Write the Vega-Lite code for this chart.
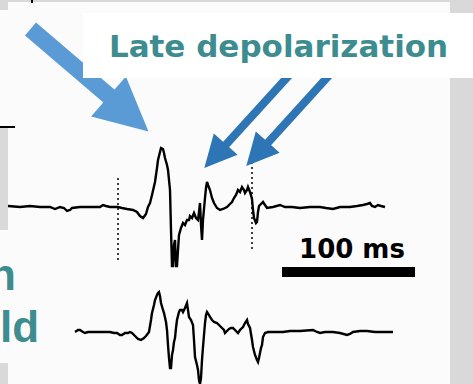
{
  "$schema": "https://vega.github.io/schema/vega-lite/v6.json",
  "autosize": {"type": "none"},
  "width": 473,
  "height": 384,
  "padding": 0,
  "background": "#d9d9d9",
  "config": {"view": {"stroke": null}},
  "encoding": {
    "x": {"field": "sample", "type": "quantitative", "scale": {"domain": [0, 473], "nice": false, "zero": false}, "axis": null},
    "y": {"field": "v", "type": "quantitative", "scale": {"domain": [0, 384], "nice": false, "zero": false, "reverse": true}, "axis": null}
  },
  "layer": [
    {
      "data": {"values": [
        {"sample": 8, "sample2": 450, "v": 2, "v2": 384},
        {"sample": 0, "sample2": 8, "v": 10, "v2": 128},
        {"sample": 0, "sample2": 8, "v": 230, "v2": 363}
      ]},
      "mark": {"type": "rect", "color": "#fbfbfb"},
      "encoding": {"x2": {"field": "sample2"}, "y2": {"field": "v2"}}
    },
    {
      "data": {"values": [
        {"lead": "top", "sample": 8, "v": 206}, {"lead": "top", "sample": 20, "v": 207}, {"lead": "top", "sample": 30, "v": 206},
        {"lead": "top", "sample": 40, "v": 207}, {"lead": "top", "sample": 50, "v": 207}, {"lead": "top", "sample": 55, "v": 209},
        {"lead": "top", "sample": 60, "v": 207}, {"lead": "top", "sample": 64, "v": 208}, {"lead": "top", "sample": 67, "v": 211},
        {"lead": "top", "sample": 70, "v": 210}, {"lead": "top", "sample": 72, "v": 208}, {"lead": "top", "sample": 80, "v": 207},
        {"lead": "top", "sample": 90, "v": 207}, {"lead": "top", "sample": 100, "v": 207}, {"lead": "top", "sample": 103, "v": 205},
        {"lead": "top", "sample": 106, "v": 206}, {"lead": "top", "sample": 110, "v": 207}, {"lead": "top", "sample": 118, "v": 207},
        {"lead": "top", "sample": 122, "v": 208}, {"lead": "top", "sample": 127, "v": 209}, {"lead": "top", "sample": 133, "v": 210},
        {"lead": "top", "sample": 137, "v": 212}, {"lead": "top", "sample": 140, "v": 216}, {"lead": "top", "sample": 143, "v": 218},
        {"lead": "top", "sample": 146, "v": 214}, {"lead": "top", "sample": 148, "v": 207}, {"lead": "top", "sample": 150, "v": 203},
        {"lead": "top", "sample": 152, "v": 195}, {"lead": "top", "sample": 155, "v": 182}, {"lead": "top", "sample": 157, "v": 168},
        {"lead": "top", "sample": 158, "v": 160}, {"lead": "top", "sample": 160, "v": 152}, {"lead": "top", "sample": 161, "v": 148},
        {"lead": "top", "sample": 163, "v": 149}, {"lead": "top", "sample": 164, "v": 153}, {"lead": "top", "sample": 165, "v": 158},
        {"lead": "top", "sample": 167, "v": 165}, {"lead": "top", "sample": 168, "v": 170}, {"lead": "top", "sample": 170, "v": 190},
        {"lead": "top", "sample": 171, "v": 230}, {"lead": "top", "sample": 172, "v": 266}, {"lead": "top", "sample": 173, "v": 266},
        {"lead": "top", "sample": 174, "v": 245}, {"lead": "top", "sample": 175, "v": 240}, {"lead": "top", "sample": 176, "v": 266},
        {"lead": "top", "sample": 177, "v": 266}, {"lead": "top", "sample": 178, "v": 250}, {"lead": "top", "sample": 179, "v": 235},
        {"lead": "top", "sample": 181, "v": 228}, {"lead": "top", "sample": 183, "v": 223}, {"lead": "top", "sample": 185, "v": 225},
        {"lead": "top", "sample": 187, "v": 220}, {"lead": "top", "sample": 189, "v": 220}, {"lead": "top", "sample": 190, "v": 216},
        {"lead": "top", "sample": 192, "v": 218}, {"lead": "top", "sample": 194, "v": 213}, {"lead": "top", "sample": 196, "v": 218},
        {"lead": "top", "sample": 198, "v": 220}, {"lead": "top", "sample": 199, "v": 212}, {"lead": "top", "sample": 200, "v": 203},
        {"lead": "top", "sample": 201, "v": 225}, {"lead": "top", "sample": 202, "v": 240}, {"lead": "top", "sample": 203, "v": 220},
        {"lead": "top", "sample": 205, "v": 198}, {"lead": "top", "sample": 206, "v": 188}, {"lead": "top", "sample": 207, "v": 182},
        {"lead": "top", "sample": 208, "v": 185}, {"lead": "top", "sample": 210, "v": 190}, {"lead": "top", "sample": 212, "v": 198},
        {"lead": "top", "sample": 214, "v": 203}, {"lead": "top", "sample": 217, "v": 208}, {"lead": "top", "sample": 220, "v": 210},
        {"lead": "top", "sample": 223, "v": 209}, {"lead": "top", "sample": 227, "v": 207}, {"lead": "top", "sample": 230, "v": 204},
        {"lead": "top", "sample": 232, "v": 202}, {"lead": "top", "sample": 234, "v": 198}, {"lead": "top", "sample": 236, "v": 195},
        {"lead": "top", "sample": 238, "v": 190}, {"lead": "top", "sample": 240, "v": 192}, {"lead": "top", "sample": 242, "v": 187},
        {"lead": "top", "sample": 244, "v": 190}, {"lead": "top", "sample": 245, "v": 193}, {"lead": "top", "sample": 247, "v": 190},
        {"lead": "top", "sample": 248, "v": 187}, {"lead": "top", "sample": 250, "v": 192}, {"lead": "top", "sample": 252, "v": 199},
        {"lead": "top", "sample": 253, "v": 210}, {"lead": "top", "sample": 254, "v": 218}, {"lead": "top", "sample": 256, "v": 223},
        {"lead": "top", "sample": 257, "v": 222}, {"lead": "top", "sample": 258, "v": 212}, {"lead": "top", "sample": 259, "v": 206},
        {"lead": "top", "sample": 261, "v": 204}, {"lead": "top", "sample": 263, "v": 202}, {"lead": "top", "sample": 265, "v": 205},
        {"lead": "top", "sample": 267, "v": 208}, {"lead": "top", "sample": 273, "v": 207}, {"lead": "top", "sample": 280, "v": 205},
        {"lead": "top", "sample": 285, "v": 207}, {"lead": "top", "sample": 292, "v": 207}, {"lead": "top", "sample": 300, "v": 208},
        {"lead": "top", "sample": 310, "v": 207}, {"lead": "top", "sample": 320, "v": 207}, {"lead": "top", "sample": 326, "v": 208},
        {"lead": "top", "sample": 333, "v": 209}, {"lead": "top", "sample": 340, "v": 207}, {"lead": "top", "sample": 350, "v": 207},
        {"lead": "top", "sample": 357, "v": 206}, {"lead": "top", "sample": 363, "v": 205}, {"lead": "top", "sample": 367, "v": 204},
        {"lead": "top", "sample": 370, "v": 203}, {"lead": "top", "sample": 372, "v": 206}, {"lead": "top", "sample": 375, "v": 207},
        {"lead": "top", "sample": 378, "v": 205}, {"lead": "top", "sample": 381, "v": 206}, {"lead": "top", "sample": 385, "v": 207},

        {"lead": "bottom", "sample": 75, "v": 332}, {"lead": "bottom", "sample": 78, "v": 330}, {"lead": "bottom", "sample": 80, "v": 330},
        {"lead": "bottom", "sample": 83, "v": 332}, {"lead": "bottom", "sample": 85, "v": 333}, {"lead": "bottom", "sample": 88, "v": 332},
        {"lead": "bottom", "sample": 95, "v": 332}, {"lead": "bottom", "sample": 100, "v": 332}, {"lead": "bottom", "sample": 110, "v": 332},
        {"lead": "bottom", "sample": 114, "v": 333}, {"lead": "bottom", "sample": 117, "v": 333}, {"lead": "bottom", "sample": 120, "v": 335},
        {"lead": "bottom", "sample": 122, "v": 335}, {"lead": "bottom", "sample": 125, "v": 333}, {"lead": "bottom", "sample": 128, "v": 333},
        {"lead": "bottom", "sample": 130, "v": 332}, {"lead": "bottom", "sample": 132, "v": 333}, {"lead": "bottom", "sample": 135, "v": 336},
        {"lead": "bottom", "sample": 138, "v": 339}, {"lead": "bottom", "sample": 141, "v": 340}, {"lead": "bottom", "sample": 144, "v": 338},
        {"lead": "bottom", "sample": 146, "v": 336}, {"lead": "bottom", "sample": 149, "v": 332}, {"lead": "bottom", "sample": 151, "v": 320},
        {"lead": "bottom", "sample": 152, "v": 313}, {"lead": "bottom", "sample": 154, "v": 305}, {"lead": "bottom", "sample": 155, "v": 300},
        {"lead": "bottom", "sample": 157, "v": 295}, {"lead": "bottom", "sample": 158, "v": 293}, {"lead": "bottom", "sample": 159, "v": 292},
        {"lead": "bottom", "sample": 160, "v": 296}, {"lead": "bottom", "sample": 161, "v": 303}, {"lead": "bottom", "sample": 163, "v": 310},
        {"lead": "bottom", "sample": 164, "v": 313}, {"lead": "bottom", "sample": 166, "v": 322}, {"lead": "bottom", "sample": 167, "v": 330},
        {"lead": "bottom", "sample": 168, "v": 345}, {"lead": "bottom", "sample": 169, "v": 358}, {"lead": "bottom", "sample": 170, "v": 368},
        {"lead": "bottom", "sample": 171, "v": 368}, {"lead": "bottom", "sample": 172, "v": 355}, {"lead": "bottom", "sample": 173, "v": 350},
        {"lead": "bottom", "sample": 174, "v": 342}, {"lead": "bottom", "sample": 175, "v": 338}, {"lead": "bottom", "sample": 176, "v": 328},
        {"lead": "bottom", "sample": 177, "v": 320}, {"lead": "bottom", "sample": 179, "v": 312}, {"lead": "bottom", "sample": 180, "v": 310},
        {"lead": "bottom", "sample": 182, "v": 310}, {"lead": "bottom", "sample": 183, "v": 312}, {"lead": "bottom", "sample": 185, "v": 308},
        {"lead": "bottom", "sample": 187, "v": 303}, {"lead": "bottom", "sample": 188, "v": 310}, {"lead": "bottom", "sample": 189, "v": 317},
        {"lead": "bottom", "sample": 191, "v": 320}, {"lead": "bottom", "sample": 193, "v": 325}, {"lead": "bottom", "sample": 194, "v": 340},
        {"lead": "bottom", "sample": 195, "v": 357}, {"lead": "bottom", "sample": 197, "v": 365}, {"lead": "bottom", "sample": 198, "v": 370},
        {"lead": "bottom", "sample": 199, "v": 380}, {"lead": "bottom", "sample": 200, "v": 384}, {"lead": "bottom", "sample": 201, "v": 378},
        {"lead": "bottom", "sample": 202, "v": 360}, {"lead": "bottom", "sample": 203, "v": 347}, {"lead": "bottom", "sample": 204, "v": 335},
        {"lead": "bottom", "sample": 205, "v": 323}, {"lead": "bottom", "sample": 206, "v": 315}, {"lead": "bottom", "sample": 207, "v": 312},
        {"lead": "bottom", "sample": 209, "v": 315}, {"lead": "bottom", "sample": 210, "v": 317}, {"lead": "bottom", "sample": 212, "v": 320},
        {"lead": "bottom", "sample": 214, "v": 322}, {"lead": "bottom", "sample": 217, "v": 323}, {"lead": "bottom", "sample": 219, "v": 325},
        {"lead": "bottom", "sample": 222, "v": 328}, {"lead": "bottom", "sample": 224, "v": 330}, {"lead": "bottom", "sample": 225, "v": 333},
        {"lead": "bottom", "sample": 227, "v": 331}, {"lead": "bottom", "sample": 229, "v": 329}, {"lead": "bottom", "sample": 231, "v": 328},
        {"lead": "bottom", "sample": 233, "v": 328}, {"lead": "bottom", "sample": 235, "v": 330}, {"lead": "bottom", "sample": 238, "v": 333},
        {"lead": "bottom", "sample": 240, "v": 330}, {"lead": "bottom", "sample": 243, "v": 327}, {"lead": "bottom", "sample": 245, "v": 323},
        {"lead": "bottom", "sample": 247, "v": 320}, {"lead": "bottom", "sample": 248, "v": 324}, {"lead": "bottom", "sample": 250, "v": 328},
        {"lead": "bottom", "sample": 252, "v": 340}, {"lead": "bottom", "sample": 253, "v": 347}, {"lead": "bottom", "sample": 255, "v": 355},
        {"lead": "bottom", "sample": 257, "v": 360}, {"lead": "bottom", "sample": 258, "v": 362}, {"lead": "bottom", "sample": 259, "v": 358},
        {"lead": "bottom", "sample": 261, "v": 348}, {"lead": "bottom", "sample": 262, "v": 345}, {"lead": "bottom", "sample": 263, "v": 337},
        {"lead": "bottom", "sample": 265, "v": 333}, {"lead": "bottom", "sample": 268, "v": 332}, {"lead": "bottom", "sample": 275, "v": 332},
        {"lead": "bottom", "sample": 283, "v": 332}, {"lead": "bottom", "sample": 290, "v": 331}, {"lead": "bottom", "sample": 300, "v": 331},
        {"lead": "bottom", "sample": 313, "v": 330}, {"lead": "bottom", "sample": 317, "v": 332}, {"lead": "bottom", "sample": 320, "v": 333},
        {"lead": "bottom", "sample": 325, "v": 332}, {"lead": "bottom", "sample": 333, "v": 332}, {"lead": "bottom", "sample": 340, "v": 333},
        {"lead": "bottom", "sample": 347, "v": 335}, {"lead": "bottom", "sample": 350, "v": 334}, {"lead": "bottom", "sample": 353, "v": 332},
        {"lead": "bottom", "sample": 360, "v": 331}, {"lead": "bottom", "sample": 367, "v": 331}, {"lead": "bottom", "sample": 375, "v": 332},
        {"lead": "bottom", "sample": 385, "v": 332}, {"lead": "bottom", "sample": 393, "v": 332}
      ]},
      "mark": {"type": "line", "color": "#000000", "strokeWidth": 2.4, "strokeJoin": "miter", "clip": true},
      "encoding": {"detail": {"field": "lead"}}
    },
    {
      "data": {"values": [
        {"sample": 118, "v": 178, "v2": 262},
        {"sample": 252, "v": 162, "v2": 250}
      ]},
      "mark": {"type": "rule", "color": "#000000", "strokeWidth": 1.5, "strokeDash": [2, 3]},
      "encoding": {"y2": {"field": "v2"}}
    },
    {
      "data": {"values": [
        {"sample": 30.5, "v": 29}, {"sample": 113, "v": 99.5}
      ]},
      "mark": {"type": "line", "color": "#5b9bd5", "strokeWidth": 17, "strokeCap": "butt"},
      "encoding": {}
    },
    {
      "data": {"values": [{"sample": 128.5, "v": 114}]},
      "mark": {"type": "point", "shape": "M0,-1L1,1L-1,1Z", "filled": true, "size": 2809, "angle": 131, "color": "#5b9bd5", "opacity": 1, "strokeWidth": 0}
    },
    {
      "data": {"values": [
        {"arrow": "a", "sample": 303, "v": 60}, {"arrow": "a", "sample": 222, "v": 149},
        {"arrow": "b", "sample": 343, "v": 60}, {"arrow": "b", "sample": 264, "v": 147}
      ]},
      "mark": {"type": "line", "color": "#2e75b6", "strokeWidth": 8, "strokeCap": "butt"},
      "encoding": {"detail": {"field": "arrow"}}
    },
    {
      "data": {"values": [{"sample": 215, "v": 156}, {"sample": 257, "v": 154}]},
      "mark": {"type": "point", "shape": "M0,-1L1,1L-1,1Z", "filled": true, "size": 1024, "angle": 222, "color": "#2e75b6", "opacity": 1, "strokeWidth": 0}
    },
    {
      "data": {"values": [{"sample": 83, "sample2": 473, "v": 13, "v2": 78}]},
      "mark": {"type": "rect", "color": "#ffffff"},
      "encoding": {"x2": {"field": "sample2"}, "y2": {"field": "v2"}}
    },
    {
      "data": {"values": [
        {"sample": 31, "sample2": 33, "v": 0, "v2": 3},
        {"sample": 0, "sample2": 15, "v": 126, "v2": 128},
        {"sample": 282, "sample2": 415, "v": 267, "v2": 277}
      ]},
      "mark": {"type": "rect", "color": "#000000"},
      "encoding": {"x2": {"field": "sample2"}, "y2": {"field": "v2"}}
    },
    {
      "data": {"values": [{"sample": 278.5, "v": 57, "label": "Late depolarization"}]},
      "mark": {"type": "text", "font": "DejaVu Sans", "fontWeight": "bold", "fontSize": 31, "color": "#3c8c90", "align": "center", "baseline": "alphabetic"},
      "encoding": {"text": {"field": "label"}}
    },
    {
      "data": {"values": [{"sample": 352, "v": 258, "label": "100 ms"}]},
      "mark": {"type": "text", "font": "DejaVu Sans", "fontWeight": "bold", "fontSize": 26, "color": "#000000", "align": "center", "baseline": "alphabetic"},
      "encoding": {"text": {"field": "label"}}
    },
    {
      "data": {"values": [
        {"sample": -11, "v": 290, "label": "n"},
        {"sample": 0, "v": 342, "label": "ld"}
      ]},
      "mark": {"type": "text", "font": "Liberation Sans", "fontWeight": "bold", "fontSize": 44, "color": "#3c8c90", "align": "left", "baseline": "alphabetic", "clip": true},
      "encoding": {"text": {"field": "label"}}
    }
  ]
}
